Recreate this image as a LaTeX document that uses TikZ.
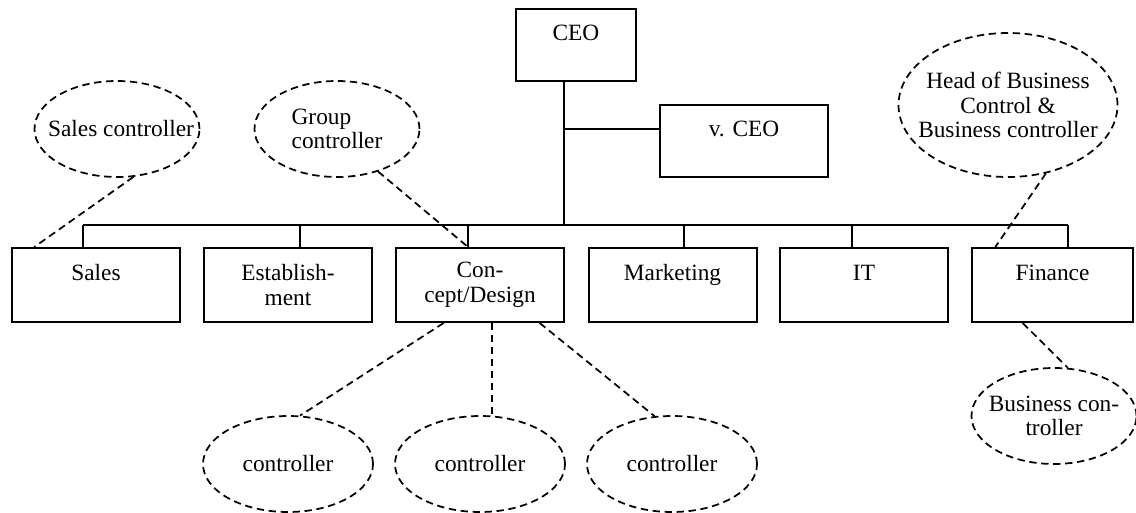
\documentclass[tikz,border=0pt]{standalone}
\usepackage{fontspec}
\setmainfont{Liberation Serif}
\usetikzlibrary{shapes.geometric,calc}
\begin{document}
\begin{tikzpicture}[x=0.75pt,y=-0.75pt,
  font=\fontsize{17.5}{18.5}\selectfont,
  box/.style={draw,line width=1.5pt,rectangle,inner sep=0pt,minimum width=126pt,minimum height=55.5pt,align=center},
  ctl/.style={draw,ellipse,dash pattern=on 5.5pt off 3.5pt,line width=1.3pt,inner sep=0pt,minimum width=123.75pt,minimum height=72pt},
  tree/.style={line width=1.5pt},
  dl/.style={dash pattern=on 5.5pt off 3.5pt,line width=1.3pt}
]
\fill[white] (0,0) rectangle (1136,513);
\useasboundingbox (0,0) rectangle (1136,513);

% top
\node[box,minimum width=90pt,minimum height=54pt] (ceo) at (576,45) {CEO\\~};
\node[box,minimum height=54pt] (vceo) at (744,141) {v. CEO\\~};

% departments
\node[box] (sales) at (96,285) {Sales\\~};
\node[box] (estab) at (288,285) {Establish-\\ment};
\node[box] (con) at (480,285) {Con-\\cept/Design};
\node[box] (mkt) at (672.5,285) {Marketing\\~};
\node[box] (it) at (864,285) {IT\\~};
\node[box,minimum width=120.75pt] (fin) at (1052.5,285) {Finance\\~};

% controllers
\node[ctl,label={[xshift=3pt]center:Sales controller}] (sc) at (117,129) {};
\node[ctl,label={[align=left]center:Group\\controller}] (gc) at (337,129) {};
\node[ctl,minimum width=164.25pt,minimum height=108pt,label={[align=center]center:Head of Business\\Control \&\\Business controller}] (hc) at (1008,105) {};
\node[ctl,label={[align=center]center:Business con-\\troller}] (bc) at (1054,416) {};
\node[ctl,minimum width=127.5pt,label={center:controller}] (c1) at (288,464) {};
\node[ctl,minimum width=127.5pt,label={center:controller}] (c2) at (480,464) {};
\node[ctl,minimum width=127.5pt,label={center:controller}] (c3) at (672,464) {};

% tree
\coordinate (bS) at (83,225);
\coordinate (bE) at (300,225);
\coordinate (bC) at (468,225);
\coordinate (bM) at (684,225);
\coordinate (bI) at (852,225);
\coordinate (bF) at (1068,225);
\coordinate (bO) at (564,225);
\coordinate (vj) at (564,129);
\draw[tree] (bS) -- (bF);
\foreach \b/\n in {bS/sales,bE/estab,bC/con,bM/mkt,bI/it,bF/fin}
  \draw[tree] (\b) -- (\b |- \n.north);
\draw[tree] (ceo.south -| bO) -- (bO);
\draw[tree] (vj) -- (vj -| vceo.west);

% dashed links
\draw[dl] (sc.-71) -- ($(sales.north west)!0.137!(sales.north east)$);
\draw[dl] (gc.-46) -- (bC |- con.north);
\draw[dl] (hc.-61) -- ($(fin.north west)!0.149!(fin.north east)$);
\draw[dl] ($(fin.south west)!0.317!(fin.south east)$) -- (bc.74);
\draw[dl] ($(con.south west)!0.286!(con.south east)$) -- (c1.76);
\coordinate (cm) at ($(con.south west)!0.571!(con.south east)$);
\draw[dl] (cm) -- (cm |- c2.north);
\draw[dl] ($(con.south west)!0.851!(con.south east)$) -- (c3.110);
\end{tikzpicture}
\end{document}
